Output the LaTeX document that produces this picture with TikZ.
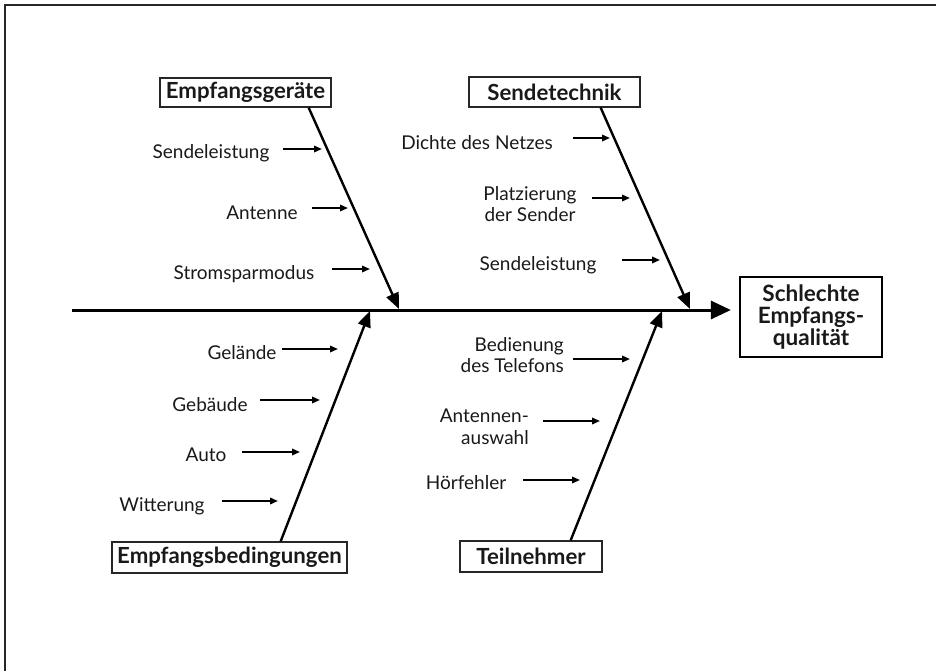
\documentclass[tikz,border=0pt]{standalone}
\usepackage{fontspec}
\setmainfont{Lato}
\usetikzlibrary{arrows.meta,calc}
\begin{document}
\begin{tikzpicture}[x=1pt,y=-1pt,
  lbl/.style={font=\fontsize{19}{21.5}\selectfont, inner sep=0pt, align=center, text=black!90},
  catbox/.style={draw=black!85, line width=1.3pt, font=\fontsize{22.2}{24}\selectfont\bfseries, inner sep=0pt, text=black!90},
  effbox/.style={draw=black, line width=2.2pt, font=\fontsize{22.5}{22}\selectfont\bfseries, inner sep=0pt, align=center, minimum width=142pt, minimum height=80pt, text=black!90},
  spine/.style={line width=3pt, -{Triangle[length=20pt,width=18pt]}},
  branch/.style={line width=2.4pt, -{Triangle[length=16pt,width=13pt]}},
  sub/.style={line width=1.8pt, -{Triangle[length=8pt,width=6.5pt]}},
  frameline/.style={line width=2pt, draw=black!85}]
\useasboundingbox (0,0) rectangle (936,671);
% frame (top and left only)
\coordinate (fa) at (5,671);
\coordinate (fb) at (5,5);
\coordinate (fc) at (936,5);
\draw[frameline] (fa) -- (fb) -- (fc);

% effect
\node[effbox] (eff) at (811,317) {Schlechte\\Empfangs-\\qualität};
% spine
\coordinate (spL) at (72,310);
\draw[spine, shorten >=8pt] (spL) -- (spL -| eff.west);

% category boxes
\node[catbox, minimum width=171pt, minimum height=29pt] (eg) at (245.5,92.5) {Empfangsgeräte};
\node[catbox, minimum width=171pt, minimum height=30pt] (st) at (554.5,92) {Sendetechnik};
\node[catbox, minimum width=235pt, minimum height=31pt] (eb) at (229.5,557.5) {Empfangsbedingungen};
\node[catbox, minimum width=142pt, minimum height=31pt] (tn) at (531,556.5) {Teilnehmer};

% spine contact points
\coordinate (s1) at (399,309);
\coordinate (s2) at (690,309);
\coordinate (s3) at (370,311);
\coordinate (s4) at (662,311);

\draw[branch] ($(eg.south east)+(-23,0)$) -- (s1);
\draw[branch] ($(st.south east)+(-40,0)$) -- (s2);
\draw[branch] ($(eb.north east)+(-67,0)$) -- (s3);
\draw[branch] ($(tn.north east)+(-32,0)$) -- (s4);

% Empfangsgeräte causes
\node[lbl] (l1) at (211,153) {Sendeleistung};
\coordinate (a1s) at (283,149); \coordinate (a1e) at (322,149);
\draw[sub] (a1s) -- (a1e);
\node[lbl] (l2) at (262,213) {Antenne};
\coordinate (a2s) at (312,208); \coordinate (a2e) at (348,208);
\draw[sub] (a2s) -- (a2e);
\node[lbl] (l3) at (244,274) {Stromsparmodus};
\coordinate (a3s) at (332,269); \coordinate (a3e) at (370,269);
\draw[sub] (a3s) -- (a3e);

% Sendetechnik causes
\node[lbl] (l4) at (477,143) {Dichte des Netzes};
\coordinate (a4s) at (573,138); \coordinate (a4e) at (610,138);
\draw[sub] (a4s) -- (a4e);
\node[lbl] (l5) at (530,204) {Platzierung\\der Sender};
\coordinate (a5s) at (592,198); \coordinate (a5e) at (630,198);
\draw[sub] (a5s) -- (a5e);
\node[lbl] (l6) at (538,265) {Sendeleistung};
\coordinate (a6s) at (622,260); \coordinate (a6e) at (660,260);
\draw[sub] (a6s) -- (a6e);

% Empfangsbedingungen causes
\node[lbl] (l7) at (242,353) {Gelände};
\coordinate (a7s) at (282,349); \coordinate (a7e) at (338,349);
\draw[sub] (a7s) -- (a7e);
\node[lbl] (l8) at (210,405) {Gebäude};
\coordinate (a8s) at (260,400); \coordinate (a8e) at (320,400);
\draw[sub] (a8s) -- (a8e);
\node[lbl] (l9) at (206,455) {Auto};
\coordinate (a9s) at (242,452); \coordinate (a9e) at (300,452);
\draw[sub] (a9s) -- (a9e);
\node[lbl] (l10) at (162,506) {Witterung};
\coordinate (a10s) at (222,501); \coordinate (a10e) at (278,501);
\draw[sub] (a10s) -- (a10e);

% Teilnehmer causes
\node[lbl, align=right, anchor=east] (l11) at (564,355) {Bedienung\\des Telefons};
\coordinate (a11s) at (573,359); \coordinate (a11e) at (630,359);
\draw[sub] (a11s) -- (a11e);
\node[lbl, align=right, anchor=east] (l12) at (529,427) {Antennen-\\auswahl};
\coordinate (a12s) at (543,421); \coordinate (a12e) at (600,421);
\draw[sub] (a12s) -- (a12e);
\node[lbl] (l13) at (466,483) {Hörfehler};
\coordinate (a13s) at (523,480); \coordinate (a13e) at (580,480);
\draw[sub] (a13s) -- (a13e);
\end{tikzpicture}
\end{document}
